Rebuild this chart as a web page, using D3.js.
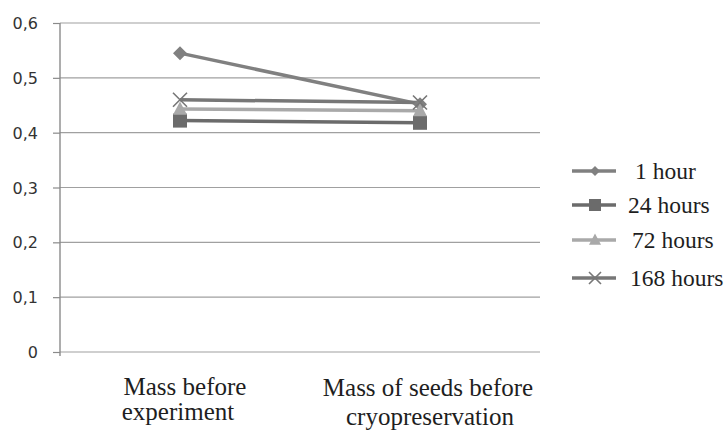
<!DOCTYPE html>
<html>
<head>
<meta charset="utf-8">
<script src="https://cdn.jsdelivr.net/npm/d3@7"></script>
<style>
  html, body { margin: 0; padding: 0; background: #fff; }
  svg { display: block; }
  .serif { font-family: "Liberation Serif", "Times New Roman", Times, serif; font-size: 25px; fill: #1e1e1e; }
  .legend-text { font-family: "Liberation Serif", "Times New Roman", Times, serif; font-size: 23.5px; fill: #1e1e1e; }
  .ytick { font-family: "DejaVu Sans", sans-serif; font-size: 16px; fill: #333; }
</style>
</head>
<body>
<svg id="chart" width="728" height="435"></svg>
<script>
// Categories on the x axis (each label split into its two lines)
const categories = ["Mass before experiment", "Mass of seeds before cryopreservation"];
const categoryLines = [["Mass before", "experiment"], ["Mass of seeds before", "cryopreservation"]];

// Series names and their values per category
const seriesNames = ["1 hour", "24 hours", "72 hours", "168 hours"];
const values1h = [0.545, 0.452];
const values24h = [0.422, 0.418];
const values72h = [0.443, 0.440];
const values168h = [0.460, 0.455];

// Y axis ticks
const yTicks = [0, 0.1, 0.2, 0.3, 0.4, 0.5, 0.6];
const yTickLabels = ["0", "0,1", "0,2", "0,3", "0,4", "0,5", "0,6"];

const series = [
  { name: seriesNames[0], values: values1h,  color: "#808080", marker: "diamond" },
  { name: seriesNames[1], values: values24h, color: "#6b6b6b", marker: "square" },
  { name: seriesNames[2], values: values72h, color: "#a9a9a9", marker: "triangle" },
  { name: seriesNames[3], values: values168h, color: "#777777", marker: "cross" }
];

const svg = d3.select("#chart");
const plot = { left: 60, right: 540, top: 23, bottom: 352 };

const x = d3.scaleBand().domain(categories).range([plot.left, plot.right]);
const y = d3.scaleLinear().domain([0, 0.6]).range([plot.bottom, plot.top]);

// Horizontal gridlines
svg.append("g").selectAll("line").data(yTicks).join("line")
  .attr("x1", plot.left).attr("x2", plot.right)
  .attr("y1", d => y(d)).attr("y2", d => y(d))
  .attr("stroke", "#a0a0a0").attr("stroke-width", 1.2);

// Y axis
const yAxis = d3.axisLeft(y).tickValues(yTicks)
  .tickFormat((d, i) => yTickLabels[i]).tickSize(7).tickPadding(15);
const gy = svg.append("g").attr("transform", `translate(${plot.left},0)`).call(yAxis);
gy.attr("font-family", null).attr("font-size", null);
gy.select(".domain").attr("stroke", "#8a8a8a").attr("stroke-width", 1.4)
  .attr("d", `M0,${plot.top}V${plot.bottom + 4}`);
gy.selectAll(".tick line").attr("stroke", "#8a8a8a").attr("stroke-width", 1.2);
gy.selectAll(".tick text").attr("class", "ytick").attr("fill", null).attr("dy", "0.35em");

// X category labels (line offsets and baselines per label line)
const labelDx = [[5, -2], [8, 10]];
const labelBase = [[395, 420], [396, 425]];
const xLabels = svg.append("g");
categories.forEach((c, i) => {
  const cx = x(c) + x.bandwidth() / 2;
  categoryLines[i].forEach((ln, j) => {
    xLabels.append("text").attr("class", "serif")
      .attr("x", cx + labelDx[i][j]).attr("y", labelBase[i][j])
      .attr("text-anchor", "middle").text(ln);
  });
});

// Marker symbols
function markerPath(type, s) {
  if (type === "diamond") return `M0,${-s}L${s},0L0,${s}L${-s},0Z`;
  if (type === "square") return `M${-s},${-s}H${s}V${s}H${-s}Z`;
  if (type === "triangle") return `M0,${-s * 1.1}L${s},${s * 0.8}L${-s},${s * 0.8}Z`;
  return `M${-s},${-s}L${s},${s}M${s},${-s}L${-s},${s}`;
}
function drawMarker(g, type, color, cx, cy, size) {
  const p = g.append("path").attr("d", markerPath(type, size))
    .attr("transform", `translate(${cx},${cy})`);
  if (type === "cross") p.attr("fill", "none").attr("stroke", color).attr("stroke-width", 1.6);
  else p.attr("fill", color);
}

const line = d3.line()
  .x((d, i) => x(categories[i]) + x.bandwidth() / 2)
  .y(d => y(d));

const lines = svg.append("g");
series.forEach(s => {
  lines.append("path").datum(s.values).attr("d", line)
    .attr("fill", "none").attr("stroke", s.color).attr("stroke-width", 3.5);
});
series.forEach(s => {
  s.values.forEach((v, i) => {
    const cx = x(categories[i]) + x.bandwidth() / 2;
    drawMarker(lines, s.marker, s.color, cx, y(v), 7);
  });
});

// Legend
const legendY = [171, 205, 240, 278];
const legendTextX = [635, 628, 632, 630];
const legend = svg.append("g");
series.forEach((s, i) => {
  const ly = legendY[i];
  legend.append("line").attr("x1", 572).attr("x2", 616).attr("y1", ly).attr("y2", ly)
    .attr("stroke", s.color).attr("stroke-width", 3.5);
  drawMarker(legend, s.marker, s.color, 595, ly, s.marker === "diamond" ? 5 : 6);
  legend.append("text").attr("class", "legend-text")
    .attr("x", legendTextX[i]).attr("y", ly + 8).text(s.name);
});
</script>
</body>
</html>
